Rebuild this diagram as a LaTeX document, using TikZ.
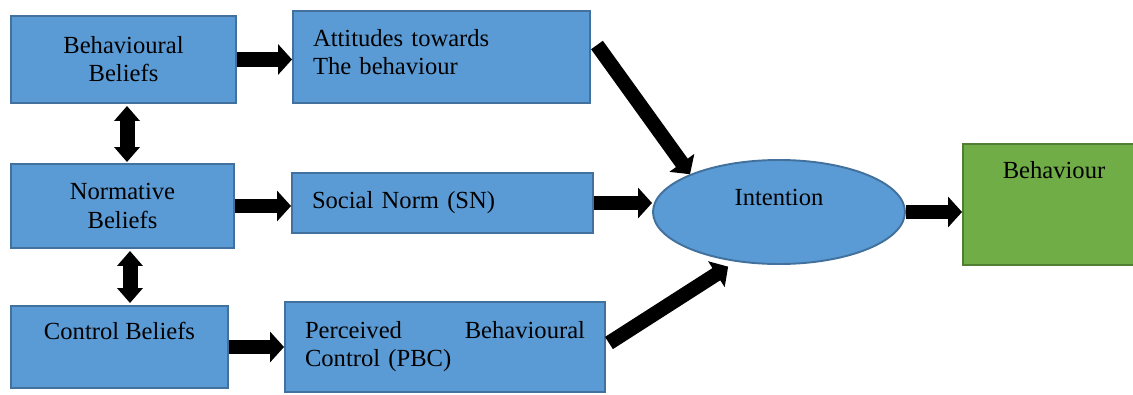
\documentclass[tikz,border=0pt]{standalone}
\usepackage{fontspec}
\setmainfont{Liberation Serif}
\usetikzlibrary{arrows.meta,shapes.geometric}

\definecolor{boxblue}{RGB}{91, 155, 213}
\definecolor{edgeblue}{RGB}{65, 113, 156}
\definecolor{boxgreen}{RGB}{112, 173, 71}
\definecolor{edgegreen}{RGB}{80, 126, 50}

\tikzset{
    bluebox/.style  = {
        draw          = edgeblue,
        line width    = 1.1pt,
        fill          = boxblue,
        font          = \fontsize{14}{16}\selectfont,
        inner sep     = 0pt
    },
    leftbox/.style  = {
        bluebox,
        align         = left,
        inner xsep    = 0.4cm
    },
    fatarrow/.style = {
        line width    = 0.29cm,
        -{Triangle[length=0.28cm, width=0.6cm]}
    },
    twoway/.style   = {
        line width    = 0.3cm,
        {Triangle[length=0.3cm, width=0.5cm]}-{Triangle[length=0.3cm, width=0.5cm]}
    }
}

\begin{document}
\begin{tikzpicture}
    \useasboundingbox (0,0) rectangle (22.66,-7.88);

    % left column
    \node[bluebox, minimum width=4.5cm, minimum height=1.74cm, align=center]
        (bb) at (2.47,-1.19) {Behavioural\\Beliefs};
    \node[bluebox, minimum width=4.46cm, minimum height=1.68cm, align=center]
        (nb) at (2.45,-4.12) {Normative\\Beliefs};
    \node[bluebox, minimum width=4.34cm, minimum height=1.64cm,
        label={[font=\fontsize{14}{16}\selectfont, yshift=0.32cm]center:Control Beliefs}]
        (cb) at (2.39,-6.94) {};

    % middle column
    \node[leftbox, text width=5.14cm, minimum height=1.84cm]
        (att) at (8.83,-1.14) {};
    \node[font=\fontsize{14}{16}\selectfont, text width=5.14cm, align=left, inner sep=0pt]
        (atttext) at ([yshift=0.09cm]att.center) {Attitudes towards\\The behaviour};
    \node[leftbox, text width=5.22cm, minimum height=1.2cm]
        (sn) at (8.85,-4.06) {Social Norm (SN)};
    \node[leftbox, text width=5.6cm, minimum height=1.8cm]
        (pbc) at (8.90,-6.94) {Perceived \hfill Behavioural\\Control (PBC)};

    % right side
    \node[bluebox, ellipse, minimum width=5.04cm, minimum height=2.08cm,
        label={[font=\fontsize{14}{16}\selectfont, yshift=0.3cm]center:Intention}]
        (int) at (15.58,-4.24) {};
    \node[bluebox, draw=edgegreen, fill=boxgreen, minimum width=3.44cm, minimum height=2.42cm,
        label={[font=\fontsize{14}{16}\selectfont, xshift=0.1cm, yshift=0.69cm]center:Behaviour}]
        (beh) at (20.98,-4.09) {};

    % arrows
    \draw[fatarrow] (bb.east) -- (bb.east -| att.west);
    \draw[fatarrow] (nb.east) -- (nb.east -| sn.west);
    \draw[fatarrow] (cb.east) -- (cb.east -| pbc.west);
    \draw[fatarrow] (sn.east) -- (sn.east -| int.west);
    \draw[fatarrow] (int.east) -- (int.east -| beh.west);
    \draw[fatarrow] ([xshift=0.12cm, yshift=0.24cm]att.east) -- (int.157);
    \draw[fatarrow, shorten >=0.18cm] ([xshift=0.06cm, yshift=0.08cm]pbc.east) -- (int.229);

    \draw[twoway, shorten <=0.04cm, shorten >=0.02cm]
        ([xshift=0.07cm]bb.south) -- ([xshift=0.07cm]bb.south |- nb.north);
    \draw[twoway, shorten <=0.04cm, shorten >=0.04cm]
        ([xshift=0.15cm]nb.south) -- ([xshift=0.15cm]nb.south |- cb.north);
\end{tikzpicture}
\end{document}
